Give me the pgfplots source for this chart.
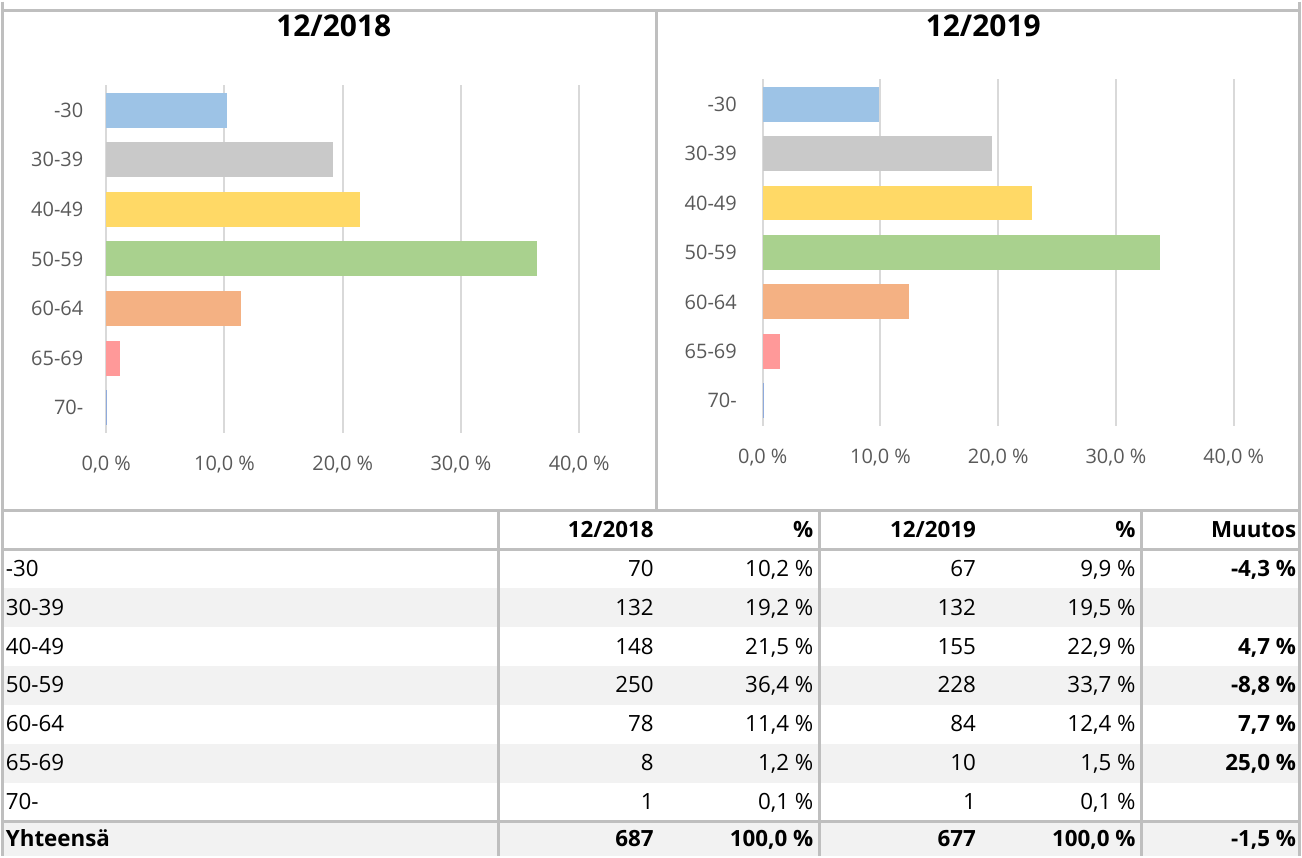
\documentclass[border=0pt]{standalone}
\usepackage{fontspec}
\setmainfont{Open Sans}
\usepackage{pgfplots}
\pgfplotsset{compat=1.18}
\definecolor{c1}{HTML}{9DC3E6}
\definecolor{c2}{HTML}{C9C9C9}
\definecolor{c3}{HTML}{FFD966}
\definecolor{c4}{HTML}{A9D18E}
\definecolor{c5}{HTML}{F4B183}
\definecolor{c6}{HTML}{FF9999}
\definecolor{c7}{HTML}{8FAADC}
\definecolor{gridc}{HTML}{D9D9D9}
\definecolor{tickc}{HTML}{595959}
\definecolor{borderc}{HTML}{BFBFBF}
\definecolor{bandc}{HTML}{F2F2F2}
\newcommand\tbl{\fontsize{11.2}{13}\selectfont}
\newcommand\tblb{\fontsize{11.2}{13}\selectfont\bfseries}
\pgfplotsset{agebar/.style={
  scale only axis, xmin=0, xmax=40, ymin=-0.5, ymax=6.5, y dir=reverse,
  xtick={0,10,20,30,40},
  xticklabels={{0,0 \%},{10,0 \%},{20,0 \%},{30,0 \%},{40,0 \%}},
  ytick={0,1,2,3,4,5,6},
  yticklabels={-30,30-39,40-49,50-59,60-64,65-69,70-},
  xmajorgrids, major grid style={draw=gridc, line width=1pt},
  axis line style={draw=none}, major tick length=0pt,
  tick label style={font=\fontsize{10}{12}\selectfont, text=tickc},
  xticklabel style={yshift=-8pt},
  xbar, bar shift=0pt, bar width=17.5pt,
  every axis plot/.append style={draw=none, bar shift=0pt},
  clip=false,
}}
\newcommand\trow[8][]{%
  \node[tcell,anchor=base west,#1] at (4,#2) {#3};
  \node[tcell,anchor=base east,#1] at (654,#2) {#4};
  \node[tcell,anchor=base east,#1] at (814,#2) {#5};
  \node[tcell,anchor=base east,#1] at (977,#2) {#6};
  \node[tcell,anchor=base east,#1] at (1137,#2) {#7};
  \node[tcell,anchor=base east,font=\tblb] at (1298,#2) {#8};
}
\begin{document}
\begin{tikzpicture}[tcell/.style={inner sep=0pt, font=\tbl, text=black}]
\begin{scope}[x=0.5pt,y=-0.5pt]
  \path (0,0) rectangle (1302,856);
  \fill[bandc] (2,588) rectangle (1300,627);
  \fill[bandc] (2,666) rectangle (1300,705);
  \fill[bandc] (2,744) rectangle (1300,783);
  \fill[bandc] (2,822) rectangle (1300,856);
  \begin{scope}[draw=borderc, line width=1.5pt]
    \draw (0,9.5) -- (1302,9.5);
    \draw (1.5,0) -- (1.5,856);
    \draw (1300.5,0) -- (1300.5,856);
    \draw (657,9.5) -- (657,510);
    \draw (0,510) -- (1302,510);
    \draw (0,549) -- (1302,549);
    \draw (0,822) -- (1302,822);
    \draw (498,510) -- (498,856);
    \draw (820,510) -- (820,856);
    \draw (1143,510) -- (1143,856);
  \end{scope}
  \node[anchor=base, inner sep=0pt, font=\fontsize{15}{17}\selectfont\bfseries] at (333,35) {12/2018};
  \node[anchor=base, inner sep=0pt, font=\fontsize{15}{17}\selectfont\bfseries] at (984,35) {12/2019};
  \trow[font=\tblb]{537}{}{12/2018}{\%}{12/2019}{\%}{Muutos}
  \trow{576}{-30}{70}{10,2 \%}{67}{9,9 \%}{-4,3 \%}
  \trow{615}{30-39}{132}{19,2 \%}{132}{19,5 \%}{}
  \trow{654}{40-49}{148}{21,5 \%}{155}{22,9 \%}{4,7 \%}
  \trow{693}{50-59}{250}{36,4 \%}{228}{33,7 \%}{-8,8 \%}
  \trow{732}{60-64}{78}{11,4 \%}{84}{12,4 \%}{7,7 \%}
  \trow{771}{65-69}{8}{1,2 \%}{10}{1,5 \%}{25,0 \%}
  \trow{810}{70-}{1}{0,1 \%}{1}{0,1 \%}{}
  \trow[font=\tblb]{847}{Yhteensä}{687}{100,0 \%}{677}{100,0 \%}{-1,5 \%}
\end{scope}

\begin{axis}[agebar, at={(52.5pt,-216pt)}, anchor=south west,
  width=237pt, height=174pt, yticklabel style={xshift=-8pt}]
  \addplot[fill=c1] coordinates {(10.2,0)};
  \addplot[fill=c2] coordinates {(19.2,1)};
  \addplot[fill=c3] coordinates {(21.5,2)};
  \addplot[fill=c4] coordinates {(36.4,3)};
  \addplot[fill=c5] coordinates {(11.4,4)};
  \addplot[fill=c6] coordinates {(1.2,5)};
  \addplot[fill=c7] coordinates {(0.1,6)};
\end{axis}

\begin{axis}[agebar, at={(381.5pt,-212.5pt)}, anchor=south west,
  width=236pt, height=173.5pt, yticklabel style={xshift=-9.5pt}]
  \addplot[fill=c1] coordinates {(9.9,0)};
  \addplot[fill=c2] coordinates {(19.5,1)};
  \addplot[fill=c3] coordinates {(22.9,2)};
  \addplot[fill=c4] coordinates {(33.7,3)};
  \addplot[fill=c5] coordinates {(12.4,4)};
  \addplot[fill=c6] coordinates {(1.5,5)};
  \addplot[fill=c7] coordinates {(0.1,6)};
\end{axis}
\end{tikzpicture}
\end{document}
